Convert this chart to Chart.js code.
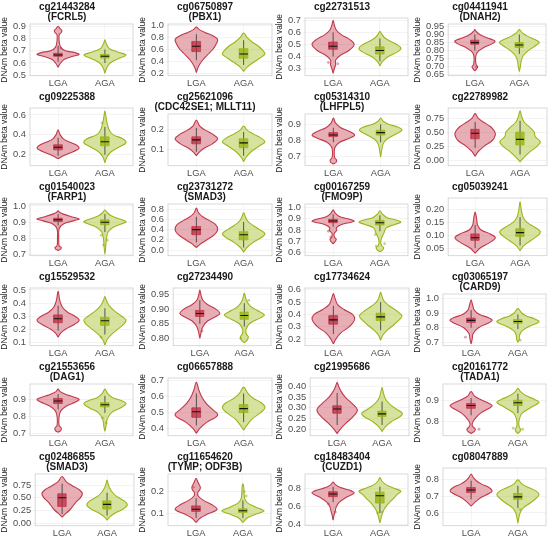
<!DOCTYPE html>
<html>
<head>
<meta charset="utf-8">
<script src="https://cdn.jsdelivr.net/npm/chart.js@4.4.1/dist/chart.umd.min.js"></script>
<style>
  html, body { margin: 0; padding: 0; background: #fff; }
  #grid { display: grid; grid-template-columns: repeat(4, 137.5px); grid-template-rows: repeat(6, 90px); width: 550px; }
  .cell { position: relative; width: 137.5px; height: 90px; overflow: hidden; }
  canvas { display: block; }
</style>
</head>
<body>
<div id="grid"></div>
<script>
const groups = ['LGA', 'AGA'];

const probes = ['cg21443284', 'cg06750897', 'cg22731513', 'cg04411941',
  'cg09225388', 'cg25621096', 'cg05314310', 'cg22789982',
  'cg01540023', 'cg23731272', 'cg00167259', 'cg05039241',
  'cg15529532', 'cg27234490', 'cg17734624', 'cg03065197',
  'cg21553656', 'cg06657888', 'cg21995686', 'cg20161772',
  'cg02486855', 'cg11654620', 'cg18483404', 'cg08047889'];

const genes = ['FCRL5', 'PBX1', '', 'DNAH2',
  '', 'CDC42SE1; MLLT11', 'LHFPL5', '',
  'FARP1', 'SMAD3', 'FMO9P', '',
  '', '', '', 'CARD9',
  'DAG1', '', '', 'TADA1',
  'SMAD3', 'TYMP; ODF3B', 'CUZD1', ''];

// y axis range and tick step per panel
const yMin = [0.496, 0.16, 0.24, 0.645, 0.09, 0.02, 0.645, -0.1, 0.695, -0.11, 0.575, 0.02,
  0.075, 0.775, 0.145, 0.677, 0.685, 0.355, 0.17, 0.735, -0.05, 0.045, 0.39, 0.525];
const yMax = [0.919, 1.02, 0.72, 0.965, 0.67, 0.28, 0.965, 0.93, 1.012, 0.9, 1.03, 0.245,
  0.515, 0.972, 0.615, 1.03, 0.99, 0.717, 0.44, 0.975, 0.97, 0.28, 0.96, 0.865];
const yStep = [0.1, 0.2, 0.1, 0.05, 0.2, 0.1, 0.1, 0.25, 0.1, 0.2, 0.1, 0.05,
  0.1, 0.05, 0.1, 0.1, 0.1, 0.1, 0.05, 0.1, 0.25, 0.1, 0.2, 0.1];

// violin outlines: [beta value, relative half width]
const lgaViolin = [
  [[0.565,0],[0.6,0.12],[0.63,0.3],[0.655,0.7],[0.67,1],[0.685,0.8],[0.7,0.35],[0.73,0.12],[0.78,0.05],[0.83,0.05],[0.85,0.15],[0.865,0.18],[0.88,0.1],[0.9,0]],
  [[0.21,0],[0.3,0.08],[0.4,0.25],[0.5,0.5],[0.6,0.78],[0.7,0.95],[0.76,1],[0.82,0.8],[0.88,0.4],[0.93,0.12],[0.97,0]],
  [[0.26,0],[0.3,0.06],[0.33,0.12],[0.37,0.12],[0.41,0.35],[0.45,0.75],[0.5,1],[0.54,0.8],[0.58,0.4],[0.62,0.15],[0.66,0.06],[0.7,0]],
  [[0.675,0],[0.69,0.1],[0.7,0.14],[0.715,0.06],[0.76,0.04],[0.79,0.12],[0.82,0.45],[0.845,0.9],[0.86,1],[0.88,0.6],[0.9,0.25],[0.92,0.06],[0.93,0]],
  [[0.16,0],[0.19,0.25],[0.22,0.6],[0.25,0.9],[0.27,1],[0.3,0.85],[0.33,0.5],[0.36,0.25],[0.4,0.1],[0.45,0]],
  [[0.07,0],[0.09,0.15],[0.11,0.4],[0.13,0.75],[0.155,1],[0.18,0.75],[0.2,0.4],[0.22,0.15],[0.25,0]],
  [[0.655,0],[0.665,0.12],[0.68,0.15],[0.695,0.06],[0.73,0.04],[0.76,0.08],[0.79,0.3],[0.815,0.75],[0.835,1],[0.86,0.7],[0.88,0.35],[0.91,0.1],[0.94,0]],
  [[0.07,0],[0.15,0.15],[0.25,0.45],[0.35,0.85],[0.45,1],[0.52,0.95],[0.6,0.75],[0.68,0.4],[0.75,0.15],[0.83,0]],
  [[0.727,0],[0.735,0.12],[0.745,0.15],[0.755,0.05],[0.8,0.03],[0.86,0.05],[0.89,0.25],[0.91,0.75],[0.92,1],[0.935,0.6],[0.95,0.25],[0.96,0.08],[0.97,0]],
  [[0.05,0],[0.12,0.2],[0.2,0.5],[0.3,0.85],[0.4,1],[0.5,0.9],[0.58,0.6],[0.65,0.3],[0.73,0.1],[0.82,0]],
  [[0.68,0],[0.7,0.1],[0.72,0.15],[0.74,0.06],[0.77,0.05],[0.8,0.18],[0.82,0.15],[0.85,0.4],[0.87,0.85],[0.88,1],[0.9,0.7],[0.92,0.3],[0.95,0.1],[0.98,0]],
  [[0.03,0],[0.05,0.25],[0.07,0.7],[0.09,1],[0.105,0.75],[0.12,0.3],[0.14,0.12],[0.16,0.08],[0.175,0.05],[0.19,0]],
  [[0.14,0],[0.17,0.12],[0.2,0.35],[0.24,0.8],[0.27,1],[0.3,0.8],[0.33,0.45],[0.37,0.2],[0.42,0.08],[0.49,0]],
  [[0.8,0],[0.82,0.06],[0.84,0.15],[0.86,0.4],[0.875,0.8],[0.885,1],[0.9,0.8],[0.915,0.4],[0.93,0.15],[0.95,0.05],[0.965,0]],
  [[0.16,0],[0.2,0.12],[0.25,0.35],[0.3,0.75],[0.36,1],[0.4,0.9],[0.44,0.5],[0.48,0.2],[0.53,0.08],[0.57,0]],
  [[0.69,0],[0.72,0.05],[0.76,0.1],[0.8,0.35],[0.83,0.8],[0.85,1],[0.87,0.8],[0.89,0.4],[0.92,0.15],[0.95,0.08],[0.99,0]],
  [[0.705,0],[0.715,0.12],[0.73,0.15],[0.745,0.05],[0.79,0.04],[0.83,0.12],[0.86,0.4],[0.885,0.85],[0.9,1],[0.915,0.7],[0.93,0.35],[0.945,0.1],[0.96,0]],
  [[0.37,0],[0.4,0.15],[0.44,0.5],[0.47,0.9],[0.49,1],[0.52,0.75],[0.56,0.45],[0.6,0.25],[0.64,0.12],[0.69,0]],
  [[0.18,0],[0.2,0.15],[0.23,0.45],[0.26,0.8],[0.29,1],[0.32,0.75],[0.35,0.4],[0.38,0.18],[0.4,0.08],[0.42,0]],
  [[0.745,0],[0.755,0.15],[0.765,0.2],[0.778,0.08],[0.79,0.05],[0.81,0.15],[0.84,0.45],[0.865,0.9],[0.875,1],[0.89,0.75],[0.905,0.4],[0.92,0.15],[0.94,0]],
  [[0.12,0],[0.18,0.15],[0.25,0.35],[0.32,0.5],[0.4,0.65],[0.5,0.9],[0.58,1],[0.66,0.85],[0.74,0.5],[0.82,0.2],[0.92,0]],
  [[0.06,0],[0.08,0.2],[0.1,0.6],[0.12,1],[0.14,0.75],[0.16,0.35],[0.18,0.1],[0.195,0.08],[0.21,0.18],[0.22,0.2],[0.24,0.1],[0.26,0]],
  [[0.45,0],[0.5,0.04],[0.55,0.1],[0.6,0.15],[0.65,0.3],[0.7,0.6],[0.75,1],[0.78,0.8],[0.81,0.35],[0.84,0.12],[0.87,0]],
  [[0.64,0],[0.66,0.15],[0.69,0.45],[0.715,0.85],[0.73,1],[0.75,0.85],[0.77,0.5],[0.79,0.25],[0.81,0.1],[0.83,0]]
];

const agaViolin = [
  [[0.515,0],[0.56,0.08],[0.6,0.25],[0.64,0.7],[0.665,1],[0.69,0.6],[0.72,0.2],[0.76,0.06],[0.79,0]],
  [[0.23,0],[0.3,0.15],[0.38,0.45],[0.45,0.75],[0.52,1],[0.58,0.9],[0.65,0.7],[0.72,0.4],[0.8,0.15],[0.87,0]],
  [[0.32,0],[0.36,0.12],[0.4,0.4],[0.44,0.85],[0.47,1],[0.5,0.8],[0.53,0.45],[0.56,0.2],[0.59,0.07],[0.61,0]],
  [[0.67,0],[0.7,0.05],[0.74,0.1],[0.77,0.2],[0.8,0.45],[0.83,0.8],[0.85,1],[0.87,0.75],[0.89,0.4],[0.91,0.15],[0.93,0]],
  [[0.12,0],[0.18,0.1],[0.23,0.3],[0.28,0.7],[0.32,1],[0.36,0.85],[0.4,0.4],[0.45,0.2],[0.52,0.1],[0.58,0.05],[0.64,0]],
  [[0.04,0],[0.06,0.1],[0.09,0.35],[0.12,0.75],[0.14,1],[0.16,0.8],[0.18,0.45],[0.2,0.15],[0.22,0]],
  [[0.7,0],[0.74,0.05],[0.78,0.12],[0.81,0.3],[0.84,0.7],[0.865,1],[0.885,0.8],[0.9,0.4],[0.92,0.12],[0.94,0]],
  [[-0.03,0],[0.05,0.2],[0.15,0.5],[0.25,0.85],[0.33,1],[0.42,0.75],[0.5,0.7],[0.58,0.5],[0.68,0.2],[0.78,0.08],[0.88,0]],
  [[0.705,0],[0.75,0.04],[0.8,0.07],[0.84,0.15],[0.87,0.4],[0.895,0.9],[0.905,1],[0.925,0.6],[0.94,0.3],[0.96,0.1],[0.975,0]],
  [[-0.04,0],[0.05,0.15],[0.15,0.45],[0.25,0.85],[0.32,1],[0.4,0.75],[0.48,0.45],[0.56,0.2],[0.65,0.08],[0.73,0]],
  [[0.61,0],[0.625,0.12],[0.645,0.18],[0.665,0.08],[0.7,0.04],[0.74,0.1],[0.78,0.2],[0.82,0.3],[0.85,0.7],[0.87,1],[0.89,0.75],[0.91,0.35],[0.94,0.12],[0.97,0]],
  [[0.04,0],[0.06,0.2],[0.08,0.55],[0.1,0.9],[0.115,1],[0.13,0.75],[0.15,0.35],[0.17,0.15],[0.2,0.06],[0.23,0]],
  [[0.08,0],[0.12,0.1],[0.16,0.3],[0.2,0.6],[0.24,0.9],[0.27,1],[0.3,0.8],[0.34,0.45],[0.38,0.2],[0.42,0.07],[0.45,0]],
  [[0.785,0],[0.795,0.15],[0.805,0.2],[0.815,0.1],[0.83,0.08],[0.85,0.25],[0.87,0.8],[0.88,1],[0.895,0.65],[0.91,0.3],[0.93,0.1],[0.955,0]],
  [[0.19,0],[0.23,0.1],[0.27,0.3],[0.32,0.65],[0.37,0.95],[0.39,1],[0.43,0.75],[0.47,0.4],[0.51,0.15],[0.55,0.06],[0.58,0]],
  [[0.7,0],[0.72,0.06],[0.75,0.08],[0.78,0.2],[0.81,0.55],[0.84,1],[0.86,0.8],[0.88,0.4],[0.9,0.18],[0.93,0]],
  [[0.71,0],[0.74,0.05],[0.78,0.1],[0.82,0.3],[0.85,0.75],[0.875,1],[0.895,0.7],[0.91,0.35],[0.935,0.12],[0.96,0]],
  [[0.39,0],[0.42,0.15],[0.46,0.4],[0.5,0.8],[0.53,1],[0.56,0.85],[0.59,0.45],[0.62,0.2],[0.66,0]],
  [[0.19,0],[0.21,0.15],[0.235,0.45],[0.26,0.9],[0.275,1],[0.295,0.7],[0.32,0.35],[0.345,0.15],[0.37,0.07],[0.395,0]],
  [[0.745,0],[0.755,0.1],[0.765,0.12],[0.78,0.05],[0.81,0.06],[0.84,0.2],[0.865,0.6],[0.89,1],[0.905,0.75],[0.92,0.4],[0.94,0.12],[0.955,0]],
  [[0.06,0],[0.12,0.12],[0.2,0.4],[0.28,0.8],[0.36,1],[0.44,0.85],[0.52,0.5],[0.6,0.28],[0.7,0.12],[0.78,0.05],[0.85,0]],
  [[0.06,0],[0.08,0.2],[0.1,0.7],[0.112,1],[0.13,0.6],[0.15,0.2],[0.17,0.08],[0.2,0.05],[0.22,0.04],[0.235,0]],
  [[0.42,0],[0.48,0.06],[0.55,0.15],[0.62,0.35],[0.68,0.6],[0.74,0.85],[0.77,1],[0.8,0.7],[0.84,0.3],[0.88,0.1],[0.92,0]],
  [[0.54,0],[0.57,0.04],[0.6,0.1],[0.63,0.25],[0.66,0.6],[0.69,0.9],[0.71,1],[0.73,0.85],[0.75,0.5],[0.77,0.2],[0.795,0]]
];

// box plots: [whisker low, q1, median, q3, whisker high]
const lgaBox = [
  [0.61,0.655,0.665,0.68,0.74], [0.42,0.56,0.65,0.73,0.85], [0.40,0.46,0.485,0.52,0.60], [0.80,0.84,0.85,0.865,0.90],
  [0.19,0.25,0.275,0.30,0.37], [0.09,0.13,0.15,0.165,0.21], [0.79,0.825,0.835,0.85,0.88], [0.22,0.38,0.48,0.55,0.68],
  [0.88,0.905,0.915,0.925,0.95], [0.15,0.30,0.40,0.46,0.65], [0.83,0.865,0.88,0.895,0.94], [0.05,0.08,0.09,0.105,0.14],
  [0.19,0.25,0.28,0.31,0.38], [0.85,0.875,0.885,0.895,0.93], [0.24,0.32,0.355,0.39,0.47], [0.80,0.835,0.85,0.865,0.92],
  [0.84,0.875,0.89,0.905,0.93], [0.42,0.47,0.505,0.53,0.62], [0.22,0.275,0.295,0.31,0.37], [0.83,0.862,0.875,0.885,0.91],
  [0.18,0.33,0.5,0.58,0.78], [0.08,0.11,0.12,0.135,0.17], [0.65,0.71,0.74,0.765,0.82], [0.68,0.72,0.735,0.75,0.79]
];
const agaBox = [
  [0.60,0.64,0.655,0.67,0.71], [0.34,0.45,0.52,0.61,0.75], [0.36,0.42,0.45,0.48,0.55], [0.78,0.82,0.835,0.85,0.90],
  [0.20,0.29,0.33,0.38,0.48], [0.07,0.11,0.135,0.155,0.19], [0.79,0.835,0.85,0.865,0.90], [0.10,0.27,0.37,0.5,0.70],
  [0.84,0.885,0.9,0.915,0.95], [0.05,0.20,0.30,0.36,0.55], [0.79,0.845,0.865,0.885,0.93], [0.06,0.095,0.11,0.125,0.17],
  [0.16,0.23,0.265,0.29,0.36], [0.84,0.865,0.878,0.89,0.92], [0.27,0.35,0.38,0.41,0.5], [0.79,0.83,0.842,0.855,0.89],
  [0.82,0.855,0.868,0.88,0.92], [0.44,0.50,0.525,0.55,0.62], [0.22,0.26,0.272,0.285,0.33], [0.84,0.875,0.888,0.9,0.93],
  [0.15,0.28,0.37,0.44,0.6], [0.08,0.105,0.113,0.122,0.16], [0.53,0.64,0.72,0.76,0.82], [0.63,0.68,0.695,0.715,0.76]
];

// visible single samples: [jitter offset, beta value]
const lgaPoints = [
  [[0.06,0.72]], [], [[-0.1,0.35],[0.1,0.34]], [[0.03,0.70]],
  [], [], [], [],
  [], [], [[-0.1,0.79],[-0.05,0.74]], [],
  [], [[0.05,0.825]], [], [[-0.12,0.735]],
  [], [], [], [[0.17,0.765]],
  [], [[-0.05,0.22]], [[-0.1,0.63],[0.05,0.54]], []
];
const agaPoints = [
  [], [], [], [],
  [[-0.06,0.52]], [], [], [],
  [[-0.08,0.82],[0.05,0.79],[-0.03,0.76]], [], [[-0.1,0.76],[0.1,0.68],[-0.08,0.66]], [],
  [[-0.08,0.14]], [[-0.08,0.80],[0.1,0.93]], [], [[0.05,0.715]],
  [[-0.05,0.79],[0.03,0.76]], [], [], [[0.1,0.765],[-0.1,0.77]],
  [], [[0.03,0.2],[0.07,0.18]], [[-0.05,0.53],[0.05,0.54]], [[0.05,0.62]]
];

const lineColors = ['#c0394c', '#9db51d'];
const fillColors = ['rgba(200, 62, 78, 0.42)', 'rgba(165, 192, 40, 0.45)'];
const boxColors = ['rgba(185, 40, 60, 0.72)', 'rgba(150, 180, 20, 0.78)'];
const dotColors = ['rgba(190, 50, 70, 0.45)', 'rgba(140, 170, 20, 0.5)'];
const VIOLIN_HALF = 0.45;
const BOX_HALF = 0.09;

Chart.defaults.font.family = "'Liberation Sans', Arial, sans-serif";

const panelBorder = {
  id: 'panelBorder',
  afterDraw(chart) {
    const { ctx, chartArea: a } = chart;
    ctx.save();
    ctx.strokeStyle = '#cfcfcf';
    ctx.lineWidth = 0.8;
    ctx.strokeRect(a.left, a.top, a.width, a.height);
    ctx.restore();
  }
};

function violinOutline(center, profile) {
  const right = profile.map(([y, w]) => ({ x: center + VIOLIN_HALF * w, y }));
  const left = profile.slice(0, -1).reverse().map(([y, w]) => ({ x: center - VIOLIN_HALF * w, y }));
  return right.concat(left);
}

function groupDatasets(g, profile, box, points) {
  const [lo, q1, med, q3, hi] = box;
  const c = g;
  return [
    { data: violinOutline(c, profile), borderColor: lineColors[g], backgroundColor: fillColors[g],
      borderWidth: 1.1, fill: 'shape', tension: 0.35, pointRadius: 0, order: 5 },
    { data: [{ x: c, y: lo }, { x: c, y: hi }], borderColor: '#333', borderWidth: 0.8,
      fill: false, pointRadius: 0, order: 4 },
    { data: [{ x: c - BOX_HALF, y: q1 }, { x: c + BOX_HALF, y: q1 }, { x: c + BOX_HALF, y: q3 },
             { x: c - BOX_HALF, y: q3 }, { x: c - BOX_HALF, y: q1 }],
      borderColor: lineColors[g], backgroundColor: boxColors[g], borderWidth: 0.8,
      fill: 'shape', tension: 0, pointRadius: 0, order: 3 },
    { data: [{ x: c - BOX_HALF, y: med }, { x: c + BOX_HALF, y: med }], borderColor: '#111',
      borderWidth: 1.1, fill: false, pointRadius: 0, order: 2 },
    { data: points.map(([dx, y]) => ({ x: c + dx, y })), showLine: false, pointRadius: 1.4,
      pointBackgroundColor: dotColors[g], pointBorderWidth: 0, order: 1 }
  ];
}

const grid = document.getElementById('grid');

probes.forEach((probe, i) => {
  const cell = document.createElement('div');
  cell.className = 'cell';
  const canvas = document.createElement('canvas');
  canvas.width = 137;
  canvas.height = 90;
  cell.appendChild(canvas);
  grid.appendChild(cell);

  const decimals = String(yStep[i]).split('.')[1].length;
  const title = genes[i] ? [probe, '(' + genes[i] + ')'] : probe;

  new Chart(canvas, {
    type: 'line',
    data: {
      datasets: [
        ...groupDatasets(0, lgaViolin[i], lgaBox[i], lgaPoints[i]),
        ...groupDatasets(1, agaViolin[i], agaBox[i], agaPoints[i])
      ]
    },
    options: {
      responsive: false,
      animation: false,
      layout: { padding: { top: 0, right: 3, bottom: 1, left: 0 } },
      plugins: {
        legend: { display: false },
        tooltip: { enabled: false },
        title: {
          display: true,
          text: title,
          color: '#1a1a1a',
          font: { size: 10, weight: 'bold', lineHeight: 1.0 },
          padding: { top: 2, bottom: genes[i] ? 2 : 6 }
        }
      },
      scales: {
        x: {
          type: 'linear',
          min: -0.6,
          max: 1.6,
          afterBuildTicks: axis => { axis.ticks = [{ value: 0 }, { value: 1 }]; },
          ticks: { callback: v => groups[v], color: '#4d4d4d', font: { size: 9.3, lineHeight: 1.0 }, padding: 1, maxRotation: 0 },
          grid: { color: '#efefef', lineWidth: 0.6, drawTicks: true, tickLength: 2 },
          border: { display: false }
        },
        y: {
          min: yMin[i],
          max: yMax[i],
          ticks: { stepSize: yStep[i], includeBounds: false, autoSkip: false, callback: v => v.toFixed(decimals),
                   color: '#4d4d4d', font: { size: 9.3, lineHeight: 1.0 }, padding: 2 },
          grid: { color: '#ebebeb', lineWidth: 0.6, drawTicks: true, tickLength: 2 },
          border: { display: false },
          title: { display: true, text: 'DNAm beta value', color: '#1a1a1a', font: { size: 8.4 }, padding: { top: 0, bottom: 1 } }
        }
      }
    },
    plugins: [panelBorder]
  });
});
</script>
</body>
</html>
